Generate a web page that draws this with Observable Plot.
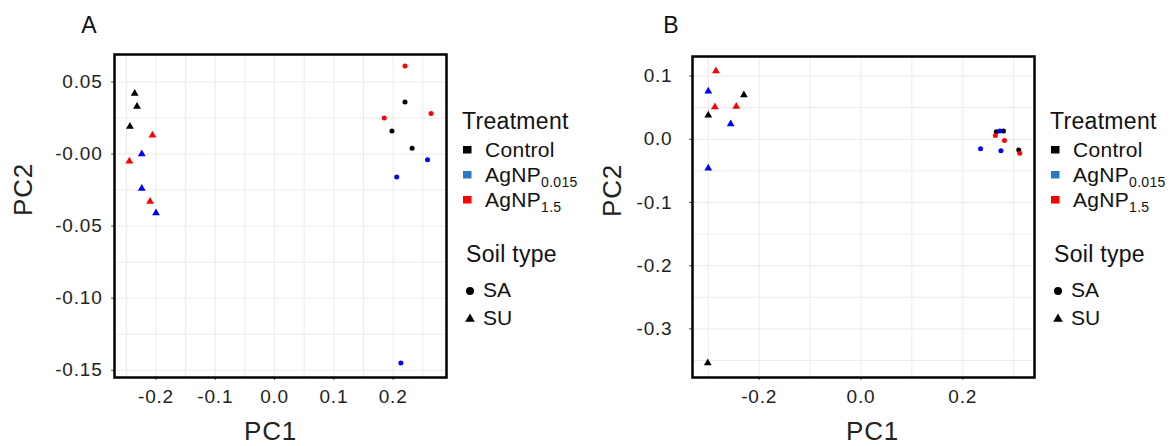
<!DOCTYPE html>
<html>
<head>
<meta charset="utf-8">
<script src="https://cdn.jsdelivr.net/npm/d3@7"></script>
<script src="https://cdn.jsdelivr.net/npm/@observablehq/plot@0.6"></script>
<style>
  html, body { margin: 0; padding: 0; background: white; }
  #root { position: relative; width: 1171px; height: 446px; overflow: hidden; font-family: "Liberation Sans", Arial, sans-serif; }
  #root > svg, #root > div { position: absolute; top: 0; }
</style>
</head>
<body>
<div id="root"></div>
<script>
// ---------- data ----------
const treatments = ["Control", "AgNP0.015", "AgNP1.5"];
const soils = ["SA", "SU"];
const pointColors = ["#000000", "#0000ff", "#ff0000"];
const legendColors = ["#000000", "#2a78c8", "#ff0000"];

// Panel A
const aPC1   = [0.220, 0.198, 0.232,  0.258, 0.206, 0.213,  0.220, 0.264, 0.185,
                -0.236, -0.232, -0.244,  -0.224, -0.224, -0.200,  -0.206, -0.245, -0.210];
const aPC2   = [0.036, 0.016, 0.004,  -0.004, -0.016, -0.145,  0.061, 0.028, 0.025,
                0.042, 0.033, 0.019,  0.000, -0.024, -0.041,  0.013, -0.005, -0.033];
const aTreat = ["Control","Control","Control","AgNP0.015","AgNP0.015","AgNP0.015","AgNP1.5","AgNP1.5","AgNP1.5",
                "Control","Control","Control","AgNP0.015","AgNP0.015","AgNP0.015","AgNP1.5","AgNP1.5","AgNP1.5"];
const aSoil  = ["SA","SA","SA","SA","SA","SA","SA","SA","SA","SU","SU","SU","SU","SU","SU","SU","SU","SU"];
const aXTicks = [-0.2, -0.1, 0.0, 0.1, 0.2];
const aXLabels = ["-0.2", "-0.1", "0.0", "0.1", "0.2"];
const aXMinor = [-0.25, -0.15, -0.05, 0.05, 0.15, 0.25];
const aYTicks = [0.05, 0.0, -0.05, -0.10, -0.15];
const aYLabels = ["0.05", "-0.00", "-0.05", "-0.10", "-0.15"];
const aYMinor = [0.025, -0.025, -0.075, -0.125];

// Panel B
const bPC1   = [0.266, 0.280, 0.310,  0.273, 0.235, 0.275,  0.264, 0.282, 0.312,
                -0.230, -0.300, -0.301,  -0.300, -0.256, -0.300,  -0.285, -0.287, -0.245];
const bPC2   = [0.012, 0.013, -0.017,  0.013, -0.015, -0.018,  0.006, -0.002, -0.022,
                0.070, 0.038, -0.354,  0.076, 0.024, -0.046,  0.108, 0.051, 0.052];
const bTreat = aTreat.slice();
const bSoil  = aSoil.slice();
const bXTicks = [-0.2, 0.0, 0.2];
const bXLabels = ["-0.2", "0.0", "0.2"];
const bXMinor = [-0.3, -0.1, 0.1, 0.3];
const bYTicks = [0.1, 0.0, -0.1, -0.2, -0.3];
const bYLabels = ["0.1", "0.0", "-0.1", "-0.2", "-0.3"];
const bYMinor = [0.05, -0.05, -0.15, -0.25, -0.35];

// ---------- drawing ----------
function panel(o) {
  const data = o.pc1.map((x, i) => ({x, y: o.pc2[i], t: o.treat[i], s: o.soil[i]}));
  const grid = {stroke: "#ebebeb", strokeOpacity: 1, strokeWidth: 1};
  return Plot.plot({
    width: 460, height: 446,
    marginLeft: o.marginLeft, marginRight: 14, marginTop: o.marginTop, marginBottom: 69,
    style: {fontFamily: "'Liberation Sans', Arial, sans-serif", fontSize: "19px", color: "#222", background: "transparent", overflow: "visible", letterSpacing: "0.8px"},
    x: {domain: o.xDomain},
    y: {domain: o.yDomain},
    color: {domain: treatments, range: pointColors},
    symbol: {domain: soils, range: ["circle", "triangle"]},
    marks: [
      Plot.gridX(o.xMinor, grid),
      Plot.gridX(o.xTicks, grid),
      Plot.gridY(o.yMinor, grid),
      Plot.gridY(o.yTicks, grid),
      Plot.axisX(o.xTicks, {tickSize: 3, tickPadding: 9, stroke: "#555", label: null,
        tickFormat: d => o.xLabels[o.xTicks.indexOf(d)]}),
      Plot.axisY(o.yTicks, {tickSize: 3, tickPadding: o.yPad, stroke: "#555", label: null,
        tickFormat: d => o.yLabels[o.yTicks.indexOf(d)]}),
      Plot.dot(data.filter(d => d.s === "SA"), {x: "x", y: "y", fill: "t", symbol: "s", r: 2.5}),
      Plot.dot(data.filter(d => d.s === "SU"), {x: "x", y: "y", fill: "t", symbol: "s", r: 2.9}),
      Plot.frame({stroke: "#000", strokeWidth: 2.5}),
      Plot.text(["PC1"], {frameAnchor: "bottom", dx: o.pc1dx, dy: 54, fontSize: 26, fill: "#222", lineAnchor: "middle"}),
      Plot.text(["PC2"], {frameAnchor: "left", dx: o.pc2dx, rotate: -90, fontSize: 26, fill: "#222", lineAnchor: "middle"})
    ]
  });
}

const root = document.getElementById("root");

const plotA = panel({pc1: aPC1, pc2: aPC2, treat: aTreat, soil: aSoil,
  xDomain: [-0.270, 0.290], yDomain: [-0.155, 0.069],
  xTicks: aXTicks, xLabels: aXLabels, xMinor: aXMinor,
  yTicks: aYTicks, yLabels: aYLabels, yMinor: aYMinor,
  marginLeft: 114, marginTop: 54, yPad: 9, pc1dx: -10, pc2dx: -91});
plotA.style.left = "0px";
root.appendChild(plotA);

const plotB = panel({pc1: bPC1, pc2: bPC2, treat: bTreat, soil: bSoil,
  xDomain: [-0.331, 0.341], yDomain: [-0.377, 0.131],
  xTicks: bXTicks, xLabels: bXLabels, xMinor: bXMinor,
  yTicks: bYTicks, yLabels: bYLabels, yMinor: bYMinor,
  marginLeft: 104, marginTop: 56, yPad: 17, pc1dx: 9, pc2dx: -80});
plotB.style.left = "588px";
root.appendChild(plotB);

// overlay: panel letters + legends
const svg = d3.select(root).append("svg")
  .attr("width", 1171).attr("height", 446)
  .style("left", "0px")
  .style("font-family", "'Liberation Sans', Arial, sans-serif")
  .style("pointer-events", "none");

const letters = [["A", 89], ["B", 671]];
letters.forEach(([t, x]) => {
  svg.append("text").attr("x", x).attr("y", 33).attr("text-anchor", "middle")
    .attr("font-size", 23).attr("fill", "#111").text(t);
});

const itemSubs = [["Control", ""], ["AgNP", "0.015"], ["AgNP", "1.5"]];
[0, 588].forEach(off => {
  const g = svg.append("g").attr("transform", `translate(${off},0)`);
  g.append("text").attr("x", 462).attr("y", 129).attr("font-size", 23).attr("fill", "#111")
    .attr("letter-spacing", "0.3px").text("Treatment");
  itemSubs.forEach(([main, sub], i) => {
    const base = 157 + i * 25;
    g.append("rect").attr("x", 463).attr("y", base - 11).attr("width", 8.5).attr("height", 7.5)
      .attr("fill", legendColors[i]);
    const t = g.append("text").attr("x", 485).attr("y", base).attr("font-size", 21).attr("fill", "#111")
      .attr("letter-spacing", "0.3px");
    t.append("tspan").text(main);
    if (sub) t.append("tspan").attr("font-size", 14).attr("dy", 5).text(sub);
  });
  g.append("text").attr("x", 466).attr("y", 262).attr("font-size", 23).attr("fill", "#111")
    .attr("letter-spacing", "0.3px").text("Soil type");
  // symbols
  g.append("circle").attr("cx", 470).attr("cy", 291).attr("r", 4).attr("fill", "#000");
  g.append("path").attr("d", d3.symbol(d3.symbolTriangle, 40)()).attr("transform", "translate(470,319)").attr("fill", "#000");
  g.append("text").attr("x", 483).attr("y", 297).attr("font-size", 21).attr("fill", "#111").text("SA");
  g.append("text").attr("x", 483).attr("y", 325).attr("font-size", 21).attr("fill", "#111").text("SU");
});
</script>
</body>
</html>
